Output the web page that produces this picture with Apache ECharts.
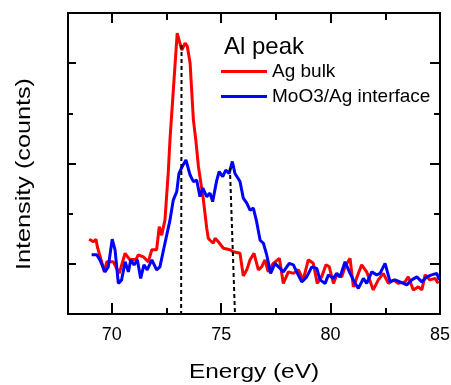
<!DOCTYPE html>
<html>
<head>
<meta charset="utf-8">
<script src="https://cdn.jsdelivr.net/npm/echarts@6/dist/echarts.min.js"></script>
<style>
    html, body { margin: 0; padding: 0; background: #fff; }
    #main { width: 451px; height: 385px; }
</style>
</head>
<body>
<div id="main"></div>
<script>
    // Ag bulk (red)
    const bulkEnergy = [68.97, 69.16, 69.28, 69.34, 69.54, 69.66, 69.77, 70.07, 70.34, 70.61, 70.83, 71.11, 71.21, 71.44, 71.67, 71.83, 72.05, 72.17, 72.28, 72.43, 72.58, 72.66, 72.99, 73.20, 73.35, 73.45, 73.58, 73.73, 73.84, 73.96, 74.18, 74.34, 74.41, 74.49, 74.64, 74.72, 74.87, 75.10, 75.40, 75.55, 75.86, 76.01, 76.17, 76.32, 76.50, 76.70, 76.85, 77.00, 77.15, 77.38, 77.66, 77.84, 78.07, 78.30, 78.53, 78.75, 78.98, 79.21, 79.39, 79.59, 79.79, 79.94, 80.13, 80.28, 80.51, 80.66, 80.89, 81.04, 81.27, 81.42, 81.65, 81.95, 82.18, 82.41, 82.64, 82.87, 83.10, 83.40, 83.55, 83.78, 84.01, 84.17, 84.32, 84.54, 84.77, 84.92];
    const bulkCounts = [1.49, 1.44, 1.49, 1.34, 1.04, 0.84, 1.04, 1.04, 0.81, 1.21, 1.08, 1.09, 1.18, 1.14, 1.04, 1.28, 1.28, 1.74, 1.57, 1.87, 2.81, 3.47, 5.60, 5.26, 5.40, 5.34, 5.00, 3.87, 3.47, 2.94, 2.30, 1.71, 1.51, 1.47, 1.41, 1.51, 1.44, 1.31, 1.28, 1.24, 1.21, 0.76, 0.88, 1.08, 1.21, 0.88, 0.94, 1.08, 0.84, 1.01, 1.11, 0.61, 0.84, 0.81, 0.88, 0.68, 1.08, 1.01, 0.61, 0.74, 0.98, 0.94, 0.61, 0.78, 0.74, 0.94, 1.11, 0.54, 0.81, 0.98, 0.84, 0.48, 0.68, 0.81, 0.61, 0.68, 0.61, 0.64, 0.74, 0.48, 0.54, 0.48, 0.78, 0.68, 0.71, 0.61];
    // MoO3/Ag interface (blue)
    const ifaceEnergy = [69.08, 69.31, 69.46, 69.69, 69.84, 70.02, 70.15, 70.30, 70.45, 70.61, 70.76, 70.87, 71.02, 71.17, 71.32, 71.47, 71.62, 71.83, 72.05, 72.20, 72.43, 72.66, 72.81, 72.97, 73.07, 73.22, 73.39, 73.58, 73.73, 73.88, 74.03, 74.16, 74.34, 74.49, 74.61, 74.80, 74.91, 75.07, 75.21, 75.36, 75.51, 75.63, 75.86, 76.01, 76.17, 76.32, 76.47, 76.62, 76.78, 76.93, 77.08, 77.26, 77.46, 77.69, 77.84, 78.11, 78.30, 78.45, 78.68, 78.91, 79.14, 79.37, 79.52, 79.75, 79.90, 80.13, 80.28, 80.43, 80.66, 80.89, 81.12, 81.27, 81.50, 81.65, 81.88, 82.11, 82.26, 82.49, 82.72, 82.94, 83.17, 83.48, 83.71, 83.94, 84.17, 84.39, 84.62, 84.85, 84.97];
    const ifaceCounts = [1.18, 1.18, 1.08, 0.84, 0.94, 1.49, 1.28, 0.61, 0.68, 1.04, 0.84, 1.08, 0.98, 1.08, 0.71, 0.98, 0.88, 1.08, 0.88, 0.94, 1.41, 1.87, 2.27, 2.44, 2.80, 2.94, 3.07, 2.77, 2.64, 2.67, 2.34, 2.51, 2.34, 2.41, 2.24, 2.67, 2.84, 2.74, 2.87, 2.80, 3.04, 2.80, 2.64, 2.31, 2.21, 2.07, 2.11, 1.84, 1.47, 1.41, 1.18, 0.81, 1.01, 0.91, 0.84, 1.01, 0.98, 0.84, 0.64, 0.74, 0.94, 0.91, 0.68, 0.61, 0.78, 0.71, 0.81, 0.74, 1.04, 0.81, 0.61, 0.51, 0.71, 0.61, 0.84, 0.78, 0.81, 1.01, 0.64, 0.68, 0.64, 0.58, 0.68, 0.74, 0.64, 0.74, 0.78, 0.81, 0.68];
    // dashed guide lines through the peaks
    const peakLineA = [[73.19, 5.36], [73.17, 0]];
    const peakLineB = [[75.40, 2.91], [75.63, 0]];
    // ticks
    const xMajorTicks = [70, 75, 80, 85];
    const xMinorTicks = [72.5, 77.5, 82.5];
    const yMajorTicks = [1, 3, 5];
    const yMinorTicks = [2, 4];

    const FONT = "'Liberation Sans', Arial, sans-serif";
    const GRID = {left: 68, top: 13, right: 11, bottom: 71, outerBoundsMode: 'none'};

    function pairs(xs, ys) {
        return xs.map(function (x, i) { return [x, ys[i]]; });
    }

    function xAxisDef(grid, pos, ticks, len, withLabels) {
        return {
            type: 'value', gridIndex: grid, position: pos, min: 68, max: 85,
            axisLine: {show: true, onZero: false, lineStyle: {color: '#000', width: 2}},
            axisTick: {show: true, inside: true, length: len, customValues: ticks, lineStyle: {color: '#000', width: 2}},
            axisLabel: withLabels ? {show: true, customValues: ticks, margin: 12, fontSize: 18, color: '#000', fontFamily: FONT} : {show: false},
            splitLine: {show: false}
        };
    }

    function yAxisDef(grid, pos, ticks, len) {
        return {
            type: 'value', gridIndex: grid, position: pos, min: 0, max: 6,
            axisLine: {show: true, onZero: false, lineStyle: {color: '#000', width: 2}},
            axisTick: {show: true, inside: true, length: len, customValues: ticks, lineStyle: {color: '#000', width: 2}},
            axisLabel: {show: false},
            splitLine: {show: false}
        };
    }

    const myChart = echarts.init(document.getElementById('main'));
    const option = {
        animation: false,
        // grid 0 holds the data, grid 1 (same box, no series) carries the frame ticks
        grid: [Object.assign({}, GRID), Object.assign({}, GRID)],
        title: {
            text: 'Al peak', left: 219, top: 30,
            textStyle: {fontSize: 24, fontWeight: 'normal', color: '#000', fontFamily: FONT}
        },
        legend: {
            data: ['Ag bulk', 'MoO3/Ag interface'],
            orient: 'vertical', left: 216, top: 57,
            icon: 'rect', itemWidth: 46, itemHeight: 3, itemGap: 6,
            textStyle: {fontSize: 19, color: '#000', fontFamily: FONT}
        },
        xAxis: [
            xAxisDef(0, 'bottom', xMajorTicks, 11, true),
            xAxisDef(0, 'top', xMajorTicks, 10, false),
            xAxisDef(1, 'bottom', xMajorTicks, 11, false),
            xAxisDef(1, 'bottom', xMinorTicks, 6, false),
            xAxisDef(1, 'top', xMajorTicks, 10, false),
            xAxisDef(1, 'top', xMinorTicks, 7, false)
        ],
        yAxis: [
            yAxisDef(0, 'left', yMajorTicks, 8),
            yAxisDef(0, 'right', yMajorTicks, 10),
            yAxisDef(1, 'left', yMajorTicks, 8),
            yAxisDef(1, 'left', yMinorTicks, 5),
            yAxisDef(1, 'right', yMajorTicks, 10),
            yAxisDef(1, 'right', yMinorTicks, 6)
        ],
        graphic: [
            {
                type: 'text', x: 254, y: 372, scaleX: 1.22,
                style: {text: 'Energy (eV)', x: 0, y: 0, align: 'center', verticalAlign: 'middle', font: '20px ' + FONT, fill: '#000'}
            },
            {
                type: 'text', x: 24, y: 174, rotation: Math.PI / 2, scaleX: 1.2,
                style: {text: 'Intensity (counts)', x: 0, y: 0, align: 'center', verticalAlign: 'middle', font: '21px ' + FONT, fill: '#000'}
            }
        ],
        series: [
            {
                name: 'Ag bulk', type: 'line', xAxisIndex: 0, yAxisIndex: 0,
                showSymbol: false, symbol: 'none',
                data: pairs(bulkEnergy, bulkCounts),
                itemStyle: {color: '#ff0000'},
                lineStyle: {color: '#ff0000', width: 3}
            },
            {
                name: 'MoO3/Ag interface', type: 'line', xAxisIndex: 0, yAxisIndex: 0,
                showSymbol: false, symbol: 'none',
                data: pairs(ifaceEnergy, ifaceCounts),
                itemStyle: {color: '#0000ff'},
                lineStyle: {color: '#0000ff', width: 3}
            },
            {
                type: 'line', xAxisIndex: 0, yAxisIndex: 0, symbol: 'none', data: peakLineA, z: 5,
                lineStyle: {color: '#000', width: 2, type: [4, 3]}
            },
            {
                type: 'line', xAxisIndex: 0, yAxisIndex: 0, symbol: 'none', data: peakLineB, z: 5,
                lineStyle: {color: '#000', width: 2, type: [4, 3]}
            }
        ]
    };
    myChart.setOption(option);
</script>
</body>
</html>
